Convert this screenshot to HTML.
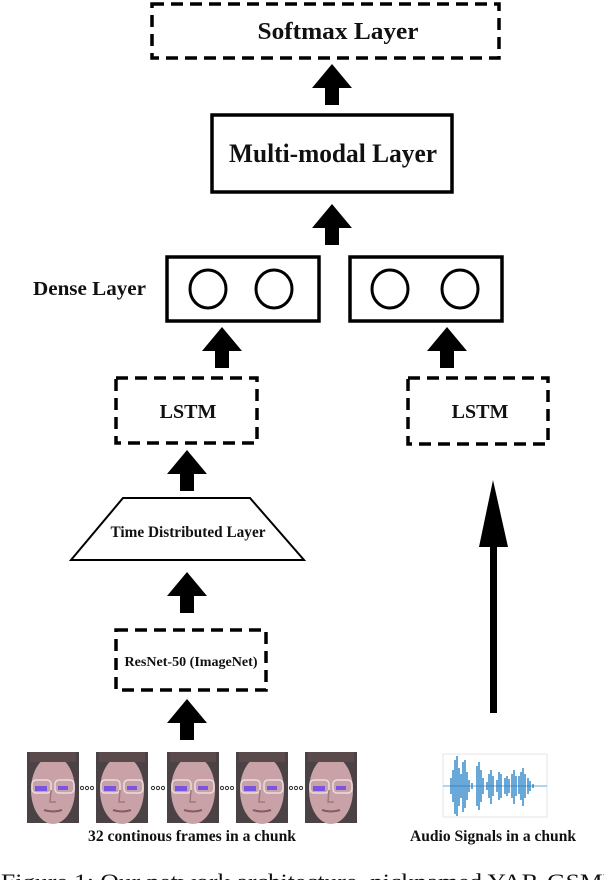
<!DOCTYPE html>
<html><head><meta charset="utf-8"><style>
html,body{margin:0;padding:0;background:#fff;width:604px;height:880px;overflow:hidden}
svg{display:block}
text{font-family:"Liberation Serif",serif;font-weight:bold;fill:#111}
</style></head><body>
<svg width="604" height="880" viewBox="0 0 604 880" xmlns="http://www.w3.org/2000/svg">
<defs>
<g id="arr"><polygon points="0,0 -20,24 -7,24 -7,41 7,41 7,24 20,24" fill="#000"/></g>
<g id="face">
<rect x="0" y="0" width="52" height="71" fill="#4a4244"/>
<ellipse cx="26" cy="38" rx="22" ry="34" fill="#c9a2a8"/>
<rect x="3" y="0" width="46" height="10" fill="#5a4a4c"/>
<rect x="5" y="28" width="19" height="13" rx="4" fill="none" stroke="#e8dde0" stroke-width="1.5"/>
<rect x="28" y="28" width="19" height="13" rx="4" fill="none" stroke="#e8dde0" stroke-width="1.5"/>
<rect x="8" y="34" width="12" height="5" fill="#7a55e0"/>
<rect x="31" y="34" width="10" height="4" fill="#7a55e0"/>
<path d="M24 38 L23 50 L29 50" fill="none" stroke="#a07880" stroke-width="1.5"/>
<path d="M17 58 Q26 61 35 58" fill="none" stroke="#8a5a62" stroke-width="2"/>
</g>
</defs>

<rect x="152" y="4" width="347" height="54" fill="none" stroke="#000" stroke-width="3.5" stroke-dasharray="12,7"/>
<text x="338" y="39" font-size="24" text-anchor="middle" textLength="161" lengthAdjust="spacingAndGlyphs">Softmax Layer</text>
<use href="#arr" x="332" y="64"/>

<rect x="212" y="115" width="240" height="77" fill="none" stroke="#000" stroke-width="3.5"/>
<text x="333" y="162" font-size="26" text-anchor="middle" textLength="208" lengthAdjust="spacingAndGlyphs">Multi-modal Layer</text>
<use href="#arr" x="332" y="204"/>

<text x="33" y="295" font-size="20" textLength="113" lengthAdjust="spacingAndGlyphs">Dense Layer</text>
<rect x="167" y="257" width="152" height="64" fill="none" stroke="#000" stroke-width="3.5"/>
<rect x="350" y="257" width="152" height="64" fill="none" stroke="#000" stroke-width="3.5"/>
<g fill="none" stroke="#000" stroke-width="3">
<ellipse cx="208" cy="289" rx="18" ry="19"/>
<ellipse cx="274" cy="289" rx="18" ry="19"/>
<ellipse cx="390" cy="289" rx="18" ry="19"/>
<ellipse cx="460" cy="289" rx="18" ry="19"/>
</g>
<use href="#arr" x="222" y="327"/>
<use href="#arr" x="447" y="327"/>

<rect x="116" y="378" width="141" height="65" fill="none" stroke="#000" stroke-width="3.5" stroke-dasharray="12,7"/>
<text x="188" y="418" font-size="20" text-anchor="middle">LSTM</text>
<rect x="408" y="378" width="140" height="66" fill="none" stroke="#000" stroke-width="3.5" stroke-dasharray="12,7"/>
<text x="480" y="418" font-size="20" text-anchor="middle">LSTM</text>
<use href="#arr" x="187" y="450"/>

<polygon points="123,498 250,498 304,560 71,560" fill="none" stroke="#000" stroke-width="2"/>
<text x="188" y="537" font-size="16" text-anchor="middle" textLength="155" lengthAdjust="spacingAndGlyphs">Time Distributed Layer</text>
<use href="#arr" x="187" y="572"/>

<rect x="116" y="630" width="150" height="60" fill="none" stroke="#000" stroke-width="3.5" stroke-dasharray="12,7"/>
<text x="191" y="666" font-size="14" text-anchor="middle" textLength="133" lengthAdjust="spacingAndGlyphs">ResNet-50 (ImageNet)</text>
<use href="#arr" x="187" y="699"/>

<polygon points="493,480 479,547 508,547" fill="#000"/>
<rect x="490" y="545" width="7" height="168" fill="#000"/>

<use href="#face" x="27" y="752"/>
<use href="#face" x="96" y="752"/>
<use href="#face" x="167" y="752"/>
<use href="#face" x="236" y="752"/>
<use href="#face" x="305" y="752"/>
<g fill="none" stroke="#333" stroke-width="1">
<circle cx="82" cy="788" r="1.6"/><circle cx="87" cy="788" r="1.6"/><circle cx="92" cy="788" r="1.6"/>
<circle cx="153" cy="788" r="1.6"/><circle cx="158" cy="788" r="1.6"/><circle cx="163" cy="788" r="1.6"/>
<circle cx="222" cy="788" r="1.6"/><circle cx="227" cy="788" r="1.6"/><circle cx="232" cy="788" r="1.6"/>
<circle cx="291" cy="788" r="1.6"/><circle cx="296" cy="788" r="1.6"/><circle cx="301" cy="788" r="1.6"/>
</g>
<text x="192" y="841" font-size="16" text-anchor="middle" textLength="208" lengthAdjust="spacingAndGlyphs">32 continous frames in a chunk</text>

<rect x="443" y="754" width="104" height="63" fill="none" stroke="#e4e4e4" stroke-width="1"/>
<line x1="443" y1="786" x2="547" y2="786" stroke="#6aa8d8" stroke-width="1"/>
<g stroke="#1a78c2" stroke-width="1.3">
<line x1="451" y1="778" x2="451" y2="794"/>
<line x1="453" y1="770" x2="453" y2="802"/>
<line x1="455" y1="760" x2="455" y2="814"/>
<line x1="457" y1="756" x2="457" y2="816"/>
<line x1="459" y1="768" x2="459" y2="806"/>
<line x1="461" y1="774" x2="461" y2="798"/>
<line x1="463" y1="762" x2="463" y2="812"/>
<line x1="465" y1="760" x2="465" y2="808"/>
<line x1="467" y1="772" x2="467" y2="800"/>
<line x1="469" y1="780" x2="469" y2="792"/>
<line x1="472" y1="783" x2="472" y2="789"/>
<line x1="477" y1="766" x2="477" y2="806"/>
<line x1="479" y1="762" x2="479" y2="810"/>
<line x1="481" y1="770" x2="481" y2="802"/>
<line x1="483" y1="778" x2="483" y2="794"/>
<line x1="487" y1="782" x2="487" y2="790"/>
<line x1="489" y1="774" x2="489" y2="798"/>
<line x1="491" y1="770" x2="491" y2="804"/>
<line x1="493" y1="776" x2="493" y2="796"/>
<line x1="497" y1="780" x2="497" y2="792"/>
<line x1="499" y1="772" x2="499" y2="800"/>
<line x1="501" y1="774" x2="501" y2="798"/>
<line x1="505" y1="778" x2="505" y2="794"/>
<line x1="507" y1="776" x2="507" y2="796"/>
<line x1="509" y1="779" x2="509" y2="793"/>
<line x1="512" y1="774" x2="512" y2="798"/>
<line x1="514" y1="770" x2="514" y2="804"/>
<line x1="516" y1="776" x2="516" y2="796"/>
<line x1="519" y1="776" x2="519" y2="794"/>
<line x1="521" y1="772" x2="521" y2="800"/>
<line x1="523" y1="768" x2="523" y2="806"/>
<line x1="525" y1="774" x2="525" y2="798"/>
<line x1="528" y1="778" x2="528" y2="794"/>
<line x1="530" y1="781" x2="530" y2="791"/>
<line x1="533" y1="784" x2="533" y2="788"/>
</g>
<text x="493" y="841" font-size="16" text-anchor="middle" textLength="166" lengthAdjust="spacingAndGlyphs">Audio Signals in a chunk</text>

<text x="1" y="889" font-size="22" textLength="620" lengthAdjust="spacingAndGlyphs" style="font-weight:normal">Figure 1: Our network architecture, nicknamed YAR-GSMD</text>
</svg>
</body></html>
